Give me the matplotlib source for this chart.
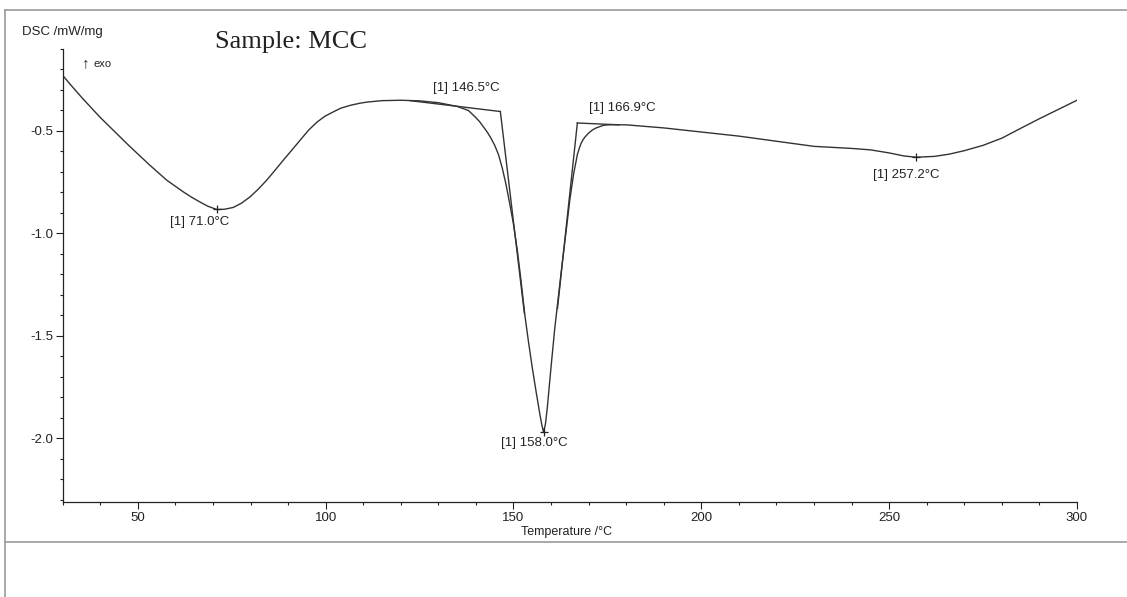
"""DSC thermogram of the MCC sample (scanned instrument printout)."""

import matplotlib
matplotlib.use("Agg")
import matplotlib.pyplot as plt
from matplotlib.lines import Line2D
from matplotlib.ticker import MultipleLocator

# DSC curve (temperature in °C, signal in mW/mg)
temperature = [30, 32.5, 35, 37.5, 40, 42.5, 45, 47.5, 50, 53.2, 57.7, 62.1, 64.3,
               66.5, 68.5, 71.0, 73.0, 75.4, 77.6, 79.9, 82.1, 84.3, 86.5, 88.7, 91,
               93.2, 95.4, 97.6, 99.8, 102, 104, 106.5, 109, 111, 115, 120, 125, 130,
               135, 138, 140, 141, 142, 143, 144, 145, 146, 147, 148, 149, 150, 151,
               152, 153, 154, 155, 156, 157, 157.5, 158, 158.5, 159, 160, 161, 162,
               163, 164, 165, 166, 167, 167.5, 168, 168.5, 169, 170, 171, 172, 174,
               176, 180, 190, 200, 210, 220, 230, 235, 240, 245, 250, 254, 257.2,
               262, 266, 270, 275, 280, 285, 290, 295, 300]
dsc = [-0.229, -0.283, -0.335, -0.385, -0.434, -0.479, -0.524, -0.569, -0.612, -0.667,
       -0.740, -0.797, -0.823, -0.846, -0.866, -0.883, -0.882, -0.873, -0.852, -0.821,
       -0.783, -0.740, -0.692, -0.643, -0.593, -0.545, -0.497, -0.458, -0.428, -0.407,
       -0.389, -0.375, -0.365, -0.359, -0.352, -0.350, -0.353, -0.362, -0.380, -0.400,
       -0.435, -0.455, -0.480, -0.505, -0.535, -0.570, -0.615, -0.680, -0.760, -0.855,
       -0.955, -1.080, -1.230, -1.395, -1.530, -1.655, -1.770, -1.880, -1.930, -1.970,
       -1.930, -1.850, -1.650, -1.460, -1.300, -1.140, -0.990, -0.835, -0.710, -0.615,
       -0.585, -0.560, -0.543, -0.530, -0.510, -0.495, -0.485, -0.472, -0.469, -0.470,
       -0.485, -0.505, -0.525, -0.550, -0.575, -0.580, -0.585, -0.592, -0.607, -0.622,
       -0.628, -0.624, -0.613, -0.596, -0.570, -0.535, -0.487, -0.440, -0.395, -0.350]

# peak markers
peak_t = [71.0, 158.0, 257.2]
peak_v = [-0.883, -1.970, -0.628]
peak_offsets = [(-17, -13), (-9, -11), (-10, -18)]

# onset / endset construction lines
onset_base_t = [122.5, 146.5]
onset_base_v = [-0.352, -0.405]
onset_tan_t = [146.5, 152.9]
onset_tan_v = [-0.405, -1.390]
endset_tan_t = [161.7, 167.0]
endset_tan_v = [-1.367, -0.461]
endset_base_t = [167.0, 178.0]
endset_base_v = [-0.461, -0.470]

onset_labels = ["[1] 146.5°C", "[1] 166.9°C"]
onset_pts = [(146.5, -0.405), (167.0, -0.461)]
onset_offsets = [(-34, 24), (45, 15)]

W, H = 1127, 597
SANS = ["Liberation Sans", "DejaVu Sans"]
INK = "#222222"

plt.rcParams["font.family"] = SANS
plt.rcParams["axes.unicode_minus"] = False

fig = plt.figure(figsize=(W / 100, H / 100), dpi=100)
ax = fig.add_axes([62.7 / W, 1 - 502 / H, (1077 - 62.7) / W, (502 - 49) / H])

ax.plot(temperature, dsc, color="#333333", linewidth=1.0)
for tt, vv in [(onset_base_t, onset_base_v), (onset_tan_t, onset_tan_v),
               (endset_tan_t, endset_tan_v), (endset_base_t, endset_base_v)]:
    ax.plot(tt, vv, color="#333333", linewidth=1.0)

ax.plot(peak_t, peak_v, "+", color=INK, markersize=6, markeredgewidth=0.9)
for t, v, off in zip(peak_t, peak_v, peak_offsets):
    ax.annotate(f"[1] {t:.1f}°C", (t, v), xytext=off, textcoords="offset pixels",
                ha="center", va="center", fontsize=9.5, color=INK)
for lab, (t, v), off in zip(onset_labels, onset_pts, onset_offsets):
    ax.annotate(lab, (t, v), xytext=off, textcoords="offset pixels",
                ha="center", va="center", fontsize=9.5, color=INK)

ax.set_xlim(30, 300)
ax.set_ylim(-2.31, -0.10)
ax.xaxis.set_major_locator(MultipleLocator(50))
ax.xaxis.set_minor_locator(MultipleLocator(10))
ax.yaxis.set_major_locator(MultipleLocator(0.5))
ax.yaxis.set_minor_locator(MultipleLocator(0.1))
ax.tick_params(which="major", direction="out", length=5, width=0.8,
               labelsize=9.5, colors=INK, pad=2)
ax.tick_params(which="minor", direction="out", length=2.5, width=0.8, colors=INK)
for side in ("top", "right"):
    ax.spines[side].set_visible(False)
for side in ("left", "bottom"):
    ax.spines[side].set_linewidth(0.9)
    ax.spines[side].set_color(INK)

ax.set_xlabel("Temperature /°C", fontsize=9, color=INK)
ax.xaxis.set_label_coords((567 - 62.7) / 1014.3, -0.052)
ax.set_ylabel("DSC /mW/mg", fontsize=9.5, color=INK, rotation=0, ha="left", va="center")
ax.yaxis.set_label_coords((22 - 62.7) / 1014.3, (502 - 31.7) / 453)

fig.text(82 / W, 1 - 63 / H, "↑", fontsize=11, color=INK, va="center", family=SANS)
fig.text(93 / W, 1 - 64 / H, "exo", fontsize=8, color=INK, va="center", family=SANS)
fig.text(215 / W, 1 - 42 / H, "Sample: MCC", fontsize=19, color=INK,
         va="center", family=["Liberation Serif", "DejaVu Serif"])

# frame lines of the printout
frame = "#9a9a9a"
fig.add_artist(Line2D([5 / W, 1], [1 - 10 / H, 1 - 10 / H], color=frame, lw=1.2))
fig.add_artist(Line2D([5 / W, 5 / W], [0, 1 - 10 / H], color=frame, lw=1.2))
fig.add_artist(Line2D([5 / W, 1], [1 - 541.5 / H, 1 - 541.5 / H], color=frame, lw=1.2))

fig.savefig("out.png", dpi=100, facecolor="white")
